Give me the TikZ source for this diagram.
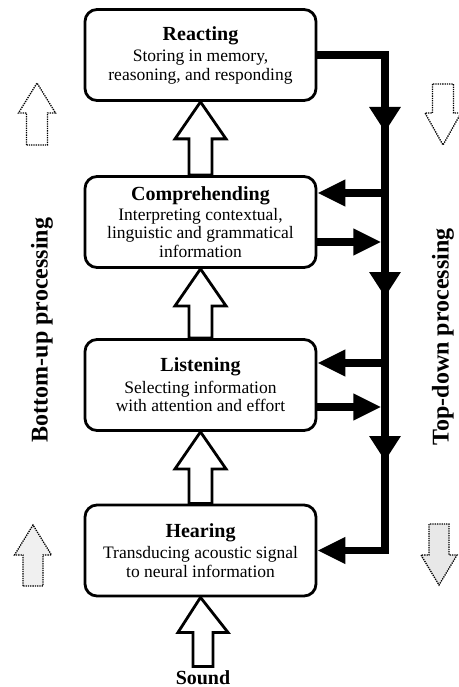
\documentclass[tikz,border=0pt]{standalone}
\usepackage{fontspec}
\setmainfont{Liberation Serif}
\usetikzlibrary{arrows.meta,calc}
\newcommand{\ttl}{\bfseries\fontsize{20}{22}\selectfont}
% block arrow: style, base, tip, shaft half width, head half width, head length
\newcommand{\hollowarrow}[6]{%
	\draw[#1] let \p1=#2, \p2=#3, \n1={ifthenelse(\y1>\y2,1,-1)} in
		(\x1-#4,\y1) -- (\x1-#4,\y2+\n1*#6) -- (\x1-#5,\y2+\n1*#6) -- (\x2,\y2)
		-- (\x1+#5,\y2+\n1*#6) -- (\x1+#4,\y2+\n1*#6) -- (\x1+#4,\y1) -- cycle;}

\begin{document}
\begin{tikzpicture}[x=1pt,y=-1pt,
	stage/.style={draw,line width=2.8pt,rounded corners=12pt,minimum width=231pt,minimum height=91pt,align=center,font=\fontsize{17.5}{18.5}\selectfont},
	bus/.style={line width=7.5pt,line join=miter},
	tip/.style={-{Triangle[length=28pt,width=25pt]}},
	downtip/.style={-{Triangle[length=25pt,width=30pt]}},
	hollow/.style={line width=2.8pt,line join=miter,fill=white},
	side/.style={line width=1.3pt,densely dotted,line join=miter}]
	\useasboundingbox (0,0) rectangle (458,687);
	
	\node[stage] (react) at (200.5,55) {{\ttl Reacting}\\[3pt]Storing in memory,\\reasoning, and responding};
	\node[stage] (comp) at (200.5,222) {{\ttl Comprehending}\\[1pt]Interpreting contextual,\\linguistic and grammatical\\information};
	\node[stage] (listen) at (200.5,385) {{\ttl Listening}\\[3pt]Selecting information\\with attention and effort};
	\node[stage] (hear) at (200.5,550.5) {{\ttl Hearing}\\[3pt]Transducing acoustic signal\\to neural information};
	\node[anchor=base,font=\ttl] (sound) at (203,684) {Sound};
	
	\node[rotate=90,font=\bfseries\fontsize{24}{26}\selectfont] (bottomup) at (42,330) {Bottom-up processing};
	\node[rotate=90,font=\bfseries\fontsize{24}{26}\selectfont] (topdown) at (443,337) {Top-down processing};
	
	% bottom-up stages
	\hollowarrow{hollow}{(sound.north)}{(hear.south)}{10pt}{25pt}{35pt}
	\hollowarrow{hollow}{(hear.north)}{(listen.south)}{11.5pt}{25.5pt}{37pt}
	\hollowarrow{hollow}{(listen.north)}{(comp.south)}{11.5pt}{25.5pt}{37pt}
	\hollowarrow{hollow}{(comp.north)}{(react.south)}{11.5pt}{25.5pt}{37pt}
	
	% side arrows
	\coordinate (lu1) at (37,145); \coordinate (lu2) at (37,83);
	\coordinate (rd1) at (443,84); \coordinate (rd2) at (443,145);
	\coordinate (lb1) at (33,586); \coordinate (lb2) at (33,525);
	\coordinate (rb1) at (439,524); \coordinate (rb2) at (439,585);
	\hollowarrow{side}{(lu1)}{(lu2)}{10.5pt}{18.5pt}{30pt}
	\hollowarrow{side}{(rd1)}{(rd2)}{10.5pt}{18pt}{32pt}
	\hollowarrow{side,fill=gray!12}{(lb1)}{(lb2)}{10pt}{18.5pt}{30pt}
	\hollowarrow{side,fill=gray!18}{(rb1)}{(rb2)}{10pt}{18pt}{30pt}
	
	% top-down bus
	\coordinate (bx) at (385,0);
	\draw[bus,tip] (react.east) -| (hear.east -| bx) -- (hear.east);
	\foreach \ty in {132,297,461}
		\draw[bus,downtip] (385,\ty-30) -- (385,\ty);
	\foreach \b/\u/\d in {comp/29/20,listen/22/22}{
		\coordinate (in) at ([yshift=\u pt]\b.east);
		\coordinate (out) at ([yshift=-\d pt]\b.east);
		\draw[bus,tip] (in -| bx) -- (in);
		\draw[bus,tip,shorten >=3.7pt] (out) -- (out -| bx);
	}
\end{tikzpicture}
\end{document}
